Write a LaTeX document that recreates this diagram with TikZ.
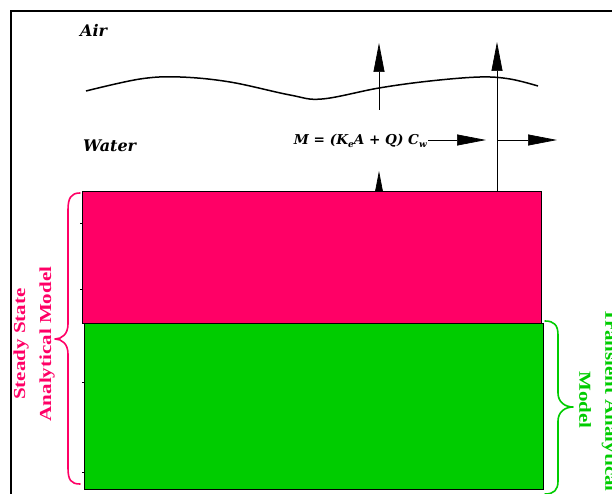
\documentclass[tikz,border=0pt]{standalone}
\usepackage{fontspec}
\setmainfont{Liberation Serif}
\newfontfamily\dvserif{DejaVu Serif}
\usetikzlibrary{arrows.meta}
\definecolor{pinkc}{HTML}{FF0066}
\definecolor{greenc}{HTML}{00CC00}
\begin{document}
\begin{tikzpicture}[x=1pt,y=-1pt,
  flux/.style={line width=0.7pt, -{Triangle[length=29pt,width=11pt]}},
  layer/.style={draw=black, line width=0.9pt, inner sep=0pt, outer sep=0pt, anchor=north west},
  medium/.style={font=\dvserif\bfseries\itshape\fontsize{16}{19}\selectfont, inner sep=0pt},
  eqtext/.style={font=\dvserif\bfseries\itshape\fontsize{13.6}{16}\selectfont, inner sep=1pt},
  brace/.style={line width=1.6pt, line cap=round, line join=round},
  modeltext/.style={font=\bfseries\fontsize{21}{32.5}\selectfont, align=center, inner sep=0pt, xscale=0.8}]
\useasboundingbox (0,0) rectangle (612,494);
\fill[white] (0,0) rectangle (612,494);
\clip (0,0) rectangle (612,494);
% frame
\draw[line width=1.3pt] (11,700) -- (11,11) -- (700,11);
% labels
\node[medium, anchor=west] (air) at (80,30) {Air};
\node[medium, anchor=west] (water) at (83,146) {Water};
% water surface
\draw[line width=1.5pt] plot[smooth, tension=0.6] coordinates
  {(86,91) (140,79) (180,77) (230,82) (290,95) (322,99) (379,88) (430,81) (480,77) (510,79) (538,86)};
% vertical fluxes
\coordinate (v1s) at (379,110);
\coordinate (v1e) at (379,43);
\draw[flux] (v1s) -- (v1e);
\coordinate (v2s) at (379,210);
\coordinate (v2e) at (379,171);
\draw[flux] (v2s) -- (v2e);
\coordinate (v3s) at (497,191);
\coordinate (v3e) at (497,42);
\draw[flux] (v3s) -- (v3e);
% equation and horizontal fluxes
\node[eqtext, anchor=east] (eq) at (428,141) {M = (K\raisebox{-0.35ex}{\fontsize{9}{10}\selectfont e}A + Q) C\raisebox{-0.35ex}{\fontsize{9}{10}\selectfont w}};
\coordinate (h1e) at (486,140);
\draw[flux] (eq.east |- h1e) -- (h1e);
\coordinate (h2s) at (498,140);
\coordinate (h2e) at (557,140);
\draw[flux] (h2s) -- (h2e);
% layers
\node[layer, fill=pinkc, minimum width=459pt, minimum height=132pt] (pink) at (82,191) {};
\node[layer, fill=greenc, minimum width=459pt, minimum height=166pt] (green) at (84,323) {};
% small ticks
\foreach \ty in {223,289} \draw[line width=0.8pt] (80,\ty) -- (83,\ty);
\foreach \ty in {382,472} \draw[line width=0.8pt] (82,\ty) -- (85,\ty);
% braces
\draw[brace, pinkc] (80,193) .. controls (71,193) and (68,198) .. (68,210) -- (68,324)
  .. controls (68,334) and (62,339) .. (55,339) .. controls (62,339) and (68,344) .. (68,354)
  -- (68,468) .. controls (68,480) and (71,484) .. (80,484);
\draw[brace, greenc] (545,321) .. controls (554,321) and (558,325) .. (558,335) -- (558,393)
  .. controls (558,402) and (565,407) .. (573,407) .. controls (565,407) and (558,412) .. (558,421)
  -- (558,481) .. controls (558,490) and (554,494) .. (545,494);
% model labels
\node[modeltext, pinkc, rotate=90] (steady) at (34,344) {Steady State\\Analytical Model};
\node[modeltext, greenc, rotate=-90] (transient) at (598,400) {Transient Analytical\\Model};
\end{tikzpicture}
\end{document}
